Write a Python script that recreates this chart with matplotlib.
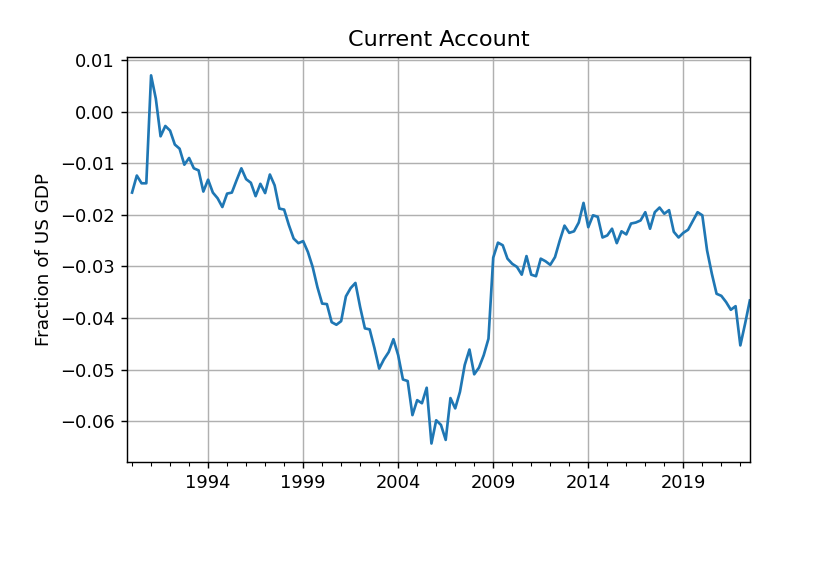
import matplotlib.pyplot as plt
from matplotlib.ticker import MultipleLocator
import numpy as np

# quarterly current account / GDP, 1990Q1 .. 2022Q3
ca = [-0.0157, -0.0124, -0.0139, -0.0139,
      0.0070, 0.0025, -0.0048, -0.0028,
      -0.0037, -0.0064, -0.0072, -0.0103,
      -0.0090, -0.0110, -0.0114, -0.0155,
      -0.0132, -0.0157, -0.0168, -0.0185,
      -0.0159, -0.0157, -0.0133, -0.0110,
      -0.0131, -0.0138, -0.0164, -0.0140,
      -0.0158, -0.0122, -0.0143, -0.0188,
      -0.0190, -0.0220, -0.0246, -0.0255,
      -0.0251, -0.0272, -0.0301, -0.0340,
      -0.0372, -0.0373, -0.0408, -0.0413,
      -0.0406, -0.0358, -0.0342, -0.0332,
      -0.0379, -0.0420, -0.0422, -0.0458,
      -0.0498, -0.0480, -0.0466, -0.0441,
      -0.0472, -0.0519, -0.0522, -0.0588,
      -0.0559, -0.0565, -0.0535, -0.0643,
      -0.0598, -0.0607, -0.0636, -0.0555,
      -0.0575, -0.0543, -0.0491, -0.0461,
      -0.0509, -0.0496, -0.0472, -0.0440,
      -0.0283, -0.0254, -0.0259, -0.0285,
      -0.0295, -0.0301, -0.0316, -0.0280,
      -0.0316, -0.0319, -0.0285, -0.0290,
      -0.0297, -0.0282, -0.0250, -0.0221,
      -0.0235, -0.0232, -0.0215, -0.0177,
      -0.0224, -0.0201, -0.0204, -0.0244,
      -0.0240, -0.0227, -0.0255, -0.0232,
      -0.0238, -0.0217, -0.0215, -0.0211,
      -0.0195, -0.0227, -0.0195, -0.0186,
      -0.0198, -0.0191, -0.0233, -0.0244,
      -0.0235, -0.0229, -0.0212, -0.0195,
      -0.0201, -0.0269, -0.0314, -0.0353,
      -0.0357, -0.0369, -0.0384, -0.0377,
      -0.0453, -0.0411, -0.0366]
start_year = 1990
major_years = [1994, 1999, 2004, 2009, 2014, 2019]

t = start_year + np.arange(len(ca)) / 4

fig = plt.figure(figsize=(6.4, 564 / 128.75))
ax = fig.add_axes([0.1545, 0.181, 0.7555, 0.718])
ax.plot(t, ca)
ax.set_xlim(start_year - 0.25, t[-1])
ax.set_xticks(major_years)
ax.set_xticklabels([str(y) for y in major_years])
ax.xaxis.set_minor_locator(MultipleLocator(1))
ax.set_title("Current Account", fontsize=12.5)
ax.set_ylabel("Fraction of US GDP", fontsize=10.25)
ax.grid(True)

fig.savefig("out.png", dpi=128.75)
